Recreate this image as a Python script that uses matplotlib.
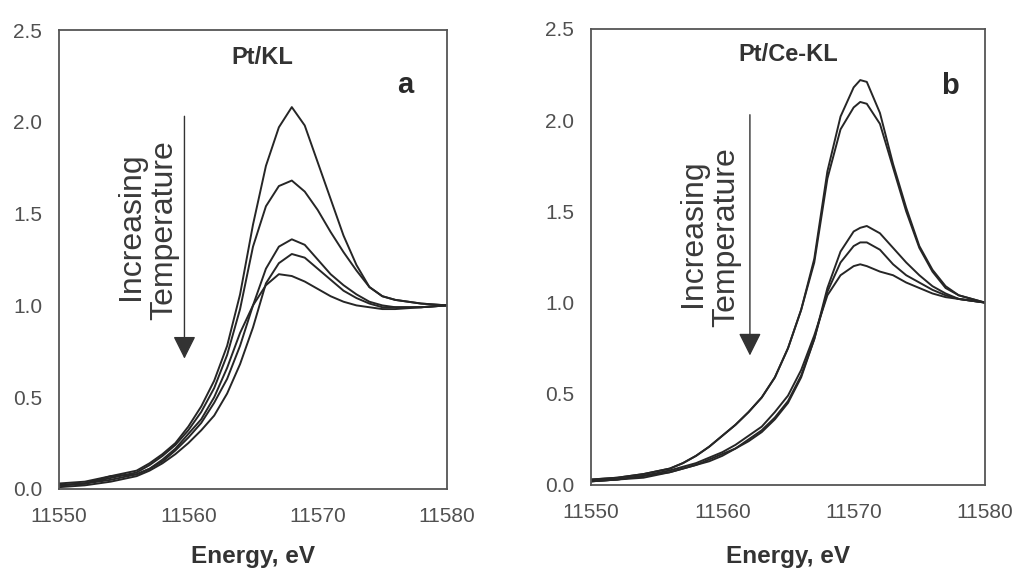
import matplotlib
matplotlib.use("Agg")
import matplotlib.pyplot as plt

plt.rcParams["font.family"] = ["Liberation Sans", "DejaVu Sans"]

# ---------- panel a : Pt/KL ----------
energy_a = [11550, 11552, 11554, 11556, 11557, 11558, 11559, 11560, 11561, 11562,
            11563, 11564, 11565, 11566, 11567, 11568, 11569, 11570, 11571, 11572,
            11573, 11574, 11575, 11576, 11578, 11580]
a1 = [0.03, 0.04, 0.07, 0.10, 0.14, 0.19, 0.25, 0.34, 0.45, 0.59,
      0.78, 1.06, 1.44, 1.76, 1.97, 2.08, 1.98, 1.78, 1.58, 1.38,
      1.22, 1.10, 1.05, 1.03, 1.01, 1.00]
a2 = [0.02, 0.03, 0.06, 0.09, 0.13, 0.18, 0.24, 0.32, 0.42, 0.55,
      0.73, 0.98, 1.32, 1.54, 1.65, 1.68, 1.62, 1.52, 1.40, 1.29,
      1.19, 1.10, 1.05, 1.03, 1.01, 1.00]
a3 = [0.02, 0.03, 0.05, 0.08, 0.11, 0.15, 0.21, 0.28, 0.36, 0.47,
      0.60, 0.78, 1.00, 1.20, 1.32, 1.36, 1.33, 1.25, 1.17, 1.11,
      1.06, 1.02, 1.00, 0.99, 0.99, 1.00]
a4 = [0.01, 0.02, 0.04, 0.07, 0.10, 0.14, 0.19, 0.25, 0.32, 0.40,
      0.52, 0.68, 0.88, 1.12, 1.23, 1.28, 1.26, 1.20, 1.14, 1.08,
      1.04, 1.01, 0.99, 0.99, 0.99, 1.00]
a5 = [0.02, 0.03, 0.07, 0.08, 0.11, 0.16, 0.22, 0.30, 0.38, 0.50,
      0.66, 0.85, 1.00, 1.11, 1.17, 1.16, 1.13, 1.09, 1.05, 1.02,
      1.00, 0.99, 0.98, 0.98, 0.99, 1.00]

# ---------- panel b : Pt/Ce-KL ----------
energy_b = [11550, 11552, 11554, 11556, 11557, 11558, 11559, 11560, 11561, 11562,
            11563, 11564, 11565, 11566, 11567, 11568, 11569, 11570, 11570.5, 11571,
            11572, 11573, 11574, 11575, 11576, 11577, 11578, 11580]
b1 = [0.03, 0.04, 0.06, 0.09, 0.12, 0.16, 0.21, 0.27, 0.33, 0.40,
      0.48, 0.59, 0.75, 0.96, 1.24, 1.72, 2.02, 2.18, 2.22, 2.21,
      2.04, 1.76, 1.52, 1.31, 1.18, 1.09, 1.04, 1.00]
b2 = [0.03, 0.04, 0.06, 0.09, 0.12, 0.16, 0.21, 0.27, 0.33, 0.40,
      0.48, 0.59, 0.75, 0.96, 1.22, 1.68, 1.95, 2.07, 2.10, 2.09,
      1.98, 1.74, 1.50, 1.30, 1.17, 1.08, 1.04, 1.00]
b3 = [0.02, 0.03, 0.04, 0.07, 0.09, 0.11, 0.13, 0.16, 0.20, 0.24,
      0.29, 0.36, 0.45, 0.59, 0.80, 1.08, 1.28, 1.39, 1.41, 1.42,
      1.38, 1.30, 1.22, 1.15, 1.09, 1.05, 1.02, 1.00]
b4 = [0.02, 0.03, 0.05, 0.07, 0.09, 0.11, 0.14, 0.17, 0.20, 0.25,
      0.30, 0.37, 0.46, 0.60, 0.80, 1.06, 1.22, 1.31, 1.33, 1.33,
      1.29, 1.21, 1.15, 1.11, 1.07, 1.04, 1.02, 1.00]
b5 = [0.02, 0.03, 0.05, 0.08, 0.10, 0.12, 0.15, 0.18, 0.22, 0.27,
      0.32, 0.40, 0.49, 0.63, 0.82, 1.04, 1.15, 1.20, 1.21, 1.20,
      1.17, 1.15, 1.11, 1.08, 1.05, 1.03, 1.02, 1.00]

xticks = [11550, 11560, 11570, 11580]
yticks = [0.0, 0.5, 1.0, 1.5, 2.0, 2.5]

panels = [
    dict(rect=[59 / 1020, 1 - 489 / 571, 388 / 1020, 459 / 571],
         energy=energy_a, curves=[a1, a2, a3, a4, a5],
         title="Pt/KL", title_xy=(11565.7, 2.35), letter="a", letter_xy=(11576.8, 2.20),
         arrow_x=11559.7, words_x=(11555.6, 11558.1), words_y=1.43, label_x=253),
    dict(rect=[591 / 1020, 1 - 485 / 571, 394 / 1020, 456 / 571],
         energy=energy_b, curves=[b1, b2, b3, b4, b5],
         title="Pt/Ce-KL", title_xy=(11565.0, 2.36), letter="b", letter_xy=(11577.3, 2.19),
         arrow_x=11562.1, words_x=(11557.8, 11560.3), words_y=1.38, label_x=788),
]

line_color = "#262626"
frame_color = "#555555"
tick_color = "#505050"

fig = plt.figure(figsize=(10.2, 5.71), dpi=100)

for p in panels:
    ax = fig.add_axes(p["rect"])
    for y in p["curves"]:
        ax.plot(p["energy"], y, color=line_color, linewidth=1.4)

    ax.set_xlim(11550, 11580)
    ax.set_ylim(0, 2.5)
    ax.set_xticks(xticks)
    ax.set_yticks(yticks)
    ax.set_xticklabels([str(t) for t in xticks])
    ax.set_yticklabels([f"{t:.1f}" for t in yticks])
    ax.tick_params(axis="x", length=0, pad=13, labelsize=15, labelcolor=tick_color)
    ax.tick_params(axis="y", length=0, pad=12, labelsize=15, labelcolor=tick_color)
    for s in ax.spines.values():
        s.set_color(frame_color)
        s.set_linewidth(1.3)

    ax.text(*p["title_xy"], p["title"], ha="center", va="center",
            fontsize=17, fontweight="bold", color="#333333")
    ax.text(*p["letter_xy"], p["letter"], ha="center", va="center",
            fontsize=21, fontweight="bold", color="#2a2a2a")

    ax.annotate("", xy=(p["arrow_x"], 0.71), xytext=(p["arrow_x"], 2.03),
                arrowprops=dict(arrowstyle="-|>,head_length=0.7,head_width=0.35",
                                mutation_scale=20, lw=1.0, color="#333333",
                                shrinkA=0, shrinkB=0))
    ax.text(p["words_x"][0], p["words_y"], "Increasing", rotation=90,
            ha="center", va="center", fontsize=23, color="#3a3a3a")
    ax.text(p["words_x"][1], p["words_y"] - 0.02, "Temperature", rotation=90,
            ha="center", va="center", fontsize=23, color="#3a3a3a")

    fig.text(p["label_x"] / 1020, 1 - 563 / 571, "Energy, eV", ha="center", va="baseline",
             fontsize=17.5, fontweight="bold", color="#333333")

fig.savefig("out.png", dpi=100)
